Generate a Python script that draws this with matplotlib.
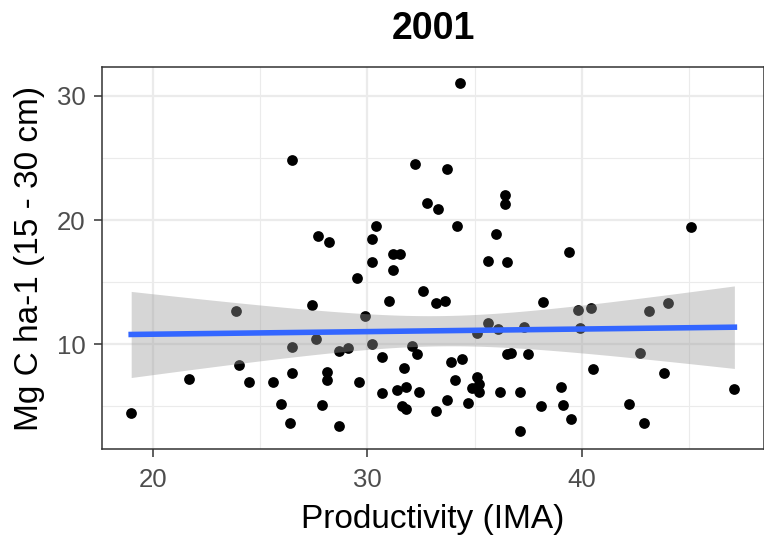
import numpy as np
import matplotlib
matplotlib.use("Agg")
import matplotlib.pyplot as plt

plt.rcParams['font.family'] = ['Liberation Sans', 'DejaVu Sans']

# productivity (IMA) and Mg C per ha at 15-30 cm, year 2001
ima = [34.3, 26.5, 32.2, 33.7, 32.8, 33.3, 36.4, 36.4, 30.4, 30.2,
       27.7, 28.2, 34.2, 36.0, 45.1, 39.4, 36.5, 31.2, 31.5, 30.2,
       31.2, 29.5, 35.6, 32.6, 27.4, 31.0, 33.2, 33.6, 29.9, 27.6,
       28.7, 29.1, 30.2, 30.7, 32.1, 32.3, 33.9, 34.4, 35.1, 35.6,
       36.1, 36.5, 36.7, 28.1, 28.1, 29.6, 31.7, 34.1, 35.1, 35.2,
       34.9, 35.2, 30.7, 31.4, 31.8, 32.4, 36.2, 27.9, 31.6, 31.8,
       33.2, 33.7, 34.7, 28.7, 37.1, 19.0, 21.7, 23.9, 24.0, 24.5,
       25.6, 26.0, 26.4, 26.5, 26.5, 38.2, 39.8, 40.4, 43.1, 44.0,
       37.3, 39.9, 37.5, 42.7, 40.5, 43.8, 37.1, 39.0, 38.1, 39.1,
       39.5, 42.2, 42.9, 47.1]
carbon = [31.0, 24.8, 24.5, 24.1, 21.4, 20.9, 22.0, 21.3, 19.5, 18.5,
          18.7, 18.2, 19.5, 18.9, 19.4, 17.4, 16.6, 17.3, 17.3, 16.6,
          16.0, 15.3, 16.7, 14.3, 13.2, 13.5, 13.3, 13.5, 12.3, 10.4,
          9.5, 9.7, 10.0, 9.0, 9.9, 9.2, 8.6, 8.8, 10.9, 11.7,
          11.2, 9.2, 9.3, 7.8, 7.1, 7.0, 8.1, 7.1, 7.4, 6.8,
          6.5, 6.2, 6.1, 6.3, 6.6, 6.2, 6.2, 5.1, 5.0, 4.8,
          4.6, 5.5, 5.3, 3.4, 3.0, 4.5, 7.2, 12.7, 8.3, 7.0,
          7.0, 5.2, 3.7, 9.8, 7.7, 13.4, 12.8, 12.9, 12.7, 13.3,
          11.4, 11.3, 9.2, 9.3, 8.0, 7.7, 6.2, 6.6, 5.0, 5.1,
          4.0, 5.2, 3.7, 6.4]

x_ticks = [20, 30, 40]
y_ticks = [10, 20, 30]

x = np.array(ima)
y = np.array(carbon)

# linear fit with 95% confidence band
n = len(x)
slope, intercept = np.polyfit(x, y, 1)
resid = y - (intercept + slope * x)
s = np.sqrt(np.sum(resid ** 2) / (n - 2))
xg = np.linspace(x.min(), x.max(), 80)
yg = intercept + slope * xg
se = s * np.sqrt(1.0 / n + (xg - x.mean()) ** 2 / np.sum((x - x.mean()) ** 2))
t_crit = 1.986

fig = plt.figure(figsize=(7.64, 5.35), dpi=100)
ax = fig.add_axes([102 / 764, 1 - 449 / 535, 662 / 764, 382 / 535])

ax.set_xlim(17.64, 48.48)
ax.set_ylim(1.58, 32.31)

# grid
for v in [25, 35, 45]:
    ax.axvline(v, color='#EBEBEB', lw=0.8, zorder=0)
for v in [5, 15, 25]:
    ax.axhline(v, color='#EBEBEB', lw=0.8, zorder=0)
for v in x_ticks:
    ax.axvline(v, color='#EBEBEB', lw=1.6, zorder=0)
for v in y_ticks:
    ax.axhline(v, color='#EBEBEB', lw=1.6, zorder=0)

ax.scatter(x, y, s=60, color='black', linewidths=0, zorder=2)
ax.fill_between(xg, yg - t_crit * se, yg + t_crit * se, color='#999999',
                alpha=0.4, linewidth=0, zorder=3)
ax.plot(xg, yg, color='#3366FF', lw=4, zorder=4)

ax.set_xticks(x_ticks)
ax.set_yticks(y_ticks)
ax.tick_params(axis='both', length=6, width=1.1, color='#333333',
               labelcolor='#4D4D4D', labelsize=18.5)
ax.tick_params(axis='x', pad=8)
ax.tick_params(axis='y', pad=6)
for sp in ax.spines.values():
    sp.set_color('#333333')
    sp.set_linewidth(1.1)

ax.set_title('2001', fontsize=27, fontweight='bold', pad=20)
ax.set_xlabel('Productivity (IMA)', fontsize=24, labelpad=8)
ax.set_ylabel('Mg C ha-1 (15 - 30 cm)', fontsize=24, labelpad=8)

fig.savefig('out.png', dpi=100)
